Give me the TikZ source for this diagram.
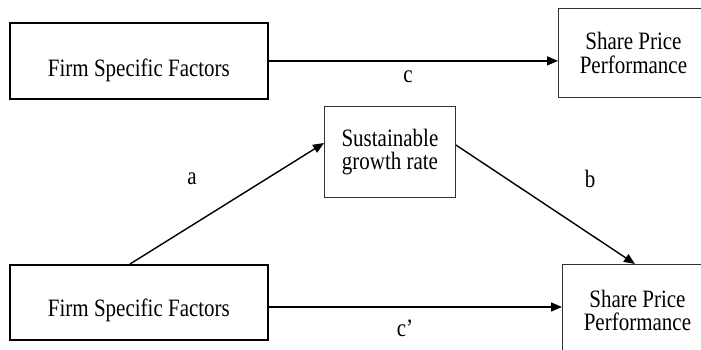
\documentclass[tikz,border=0pt]{standalone}
\usepackage{fontspec}
\setmainfont[FakeStretch=0.84]{Liberation Serif}
\usetikzlibrary{arrows.meta,calc}
\begin{document}
\begin{tikzpicture}[x=1pt,y=-1pt,
 txt/.style={font=\fontsize{25}{23.3}\selectfont},
 thickbox/.style={txt,draw=black,line width=1.8pt,inner sep=0pt,minimum width=258pt,align=center,anchor=north west},
 thinbox/.style={txt,draw=black!80,line width=0.9pt,inner sep=0pt,align=center,anchor=north west},
 conn/.style={line width=1.4pt,-{Triangle[length=11pt,width=9pt]}},
 lab/.style={txt,inner sep=0pt}]
\useasboundingbox (0,0) rectangle (701,350);
\clip (0,0) rectangle (701,350);
\node[thickbox,text height=54pt,text depth=22pt] (tl) at (9,22) {Firm Specific Factors};
\node[thinbox,minimum width=150pt,minimum height=89pt] (tr) at (558,8) {Share Price\\Performance};
\node[thinbox,minimum width=131pt,minimum height=91pt] (sgr) at (324,106) {Sustainable\\growth rate};
\node[thickbox,text height=52pt,text depth=23pt] (bl) at (9,264) {Firm Specific Factors};
\node[thinbox,minimum width=150pt,minimum height=92pt] (br) at (562,264) {Share Price\\Performance};
\draw[conn] (tl.east) -- (tl.east -| tr.west);
\draw[conn] ($(bl.north east)+(0,43)$) coordinate (bs) -- (bs -| br.west);
\draw[conn] ($(bl.north west)+(121,0)$) -- ($(sgr.north west)+(0,37)$);
\draw[conn] ($(sgr.north east)+(0,39)$) -- ($(br.north west)+(73,0)$);
\node[lab] (lc) at (408,77) {c};
\node[lab] (la) at (192,179) {a};
\node[lab] (lb) at (590,179) {b};
\node[lab] (lcp) at (405,328) {c’};
\end{tikzpicture}
\end{document}
